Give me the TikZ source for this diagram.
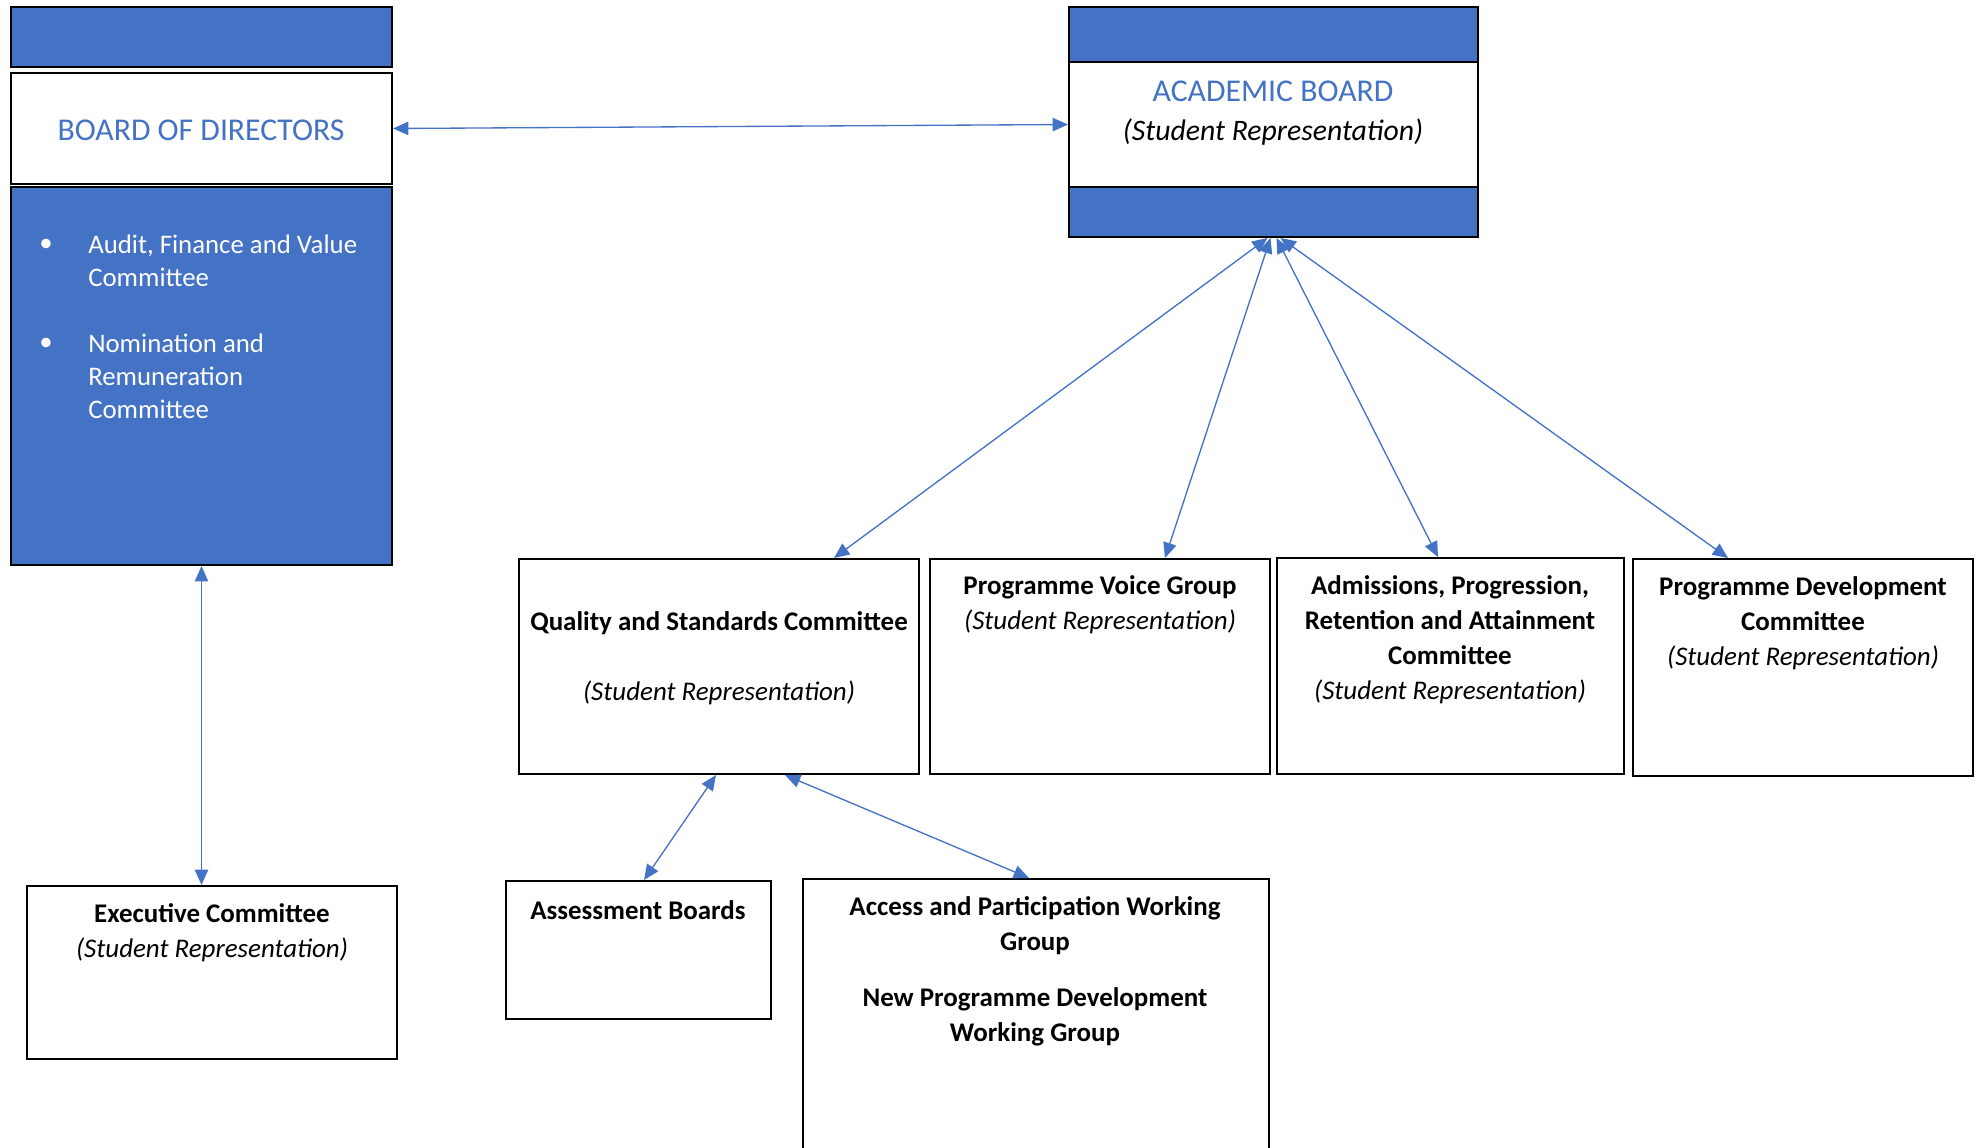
\documentclass[tikz,border=0pt]{standalone}
\usepackage{fontspec}
\setmainfont{Carlito}
\usetikzlibrary{arrows.meta,fit,calc}
\definecolor{accent}{HTML}{4472C4}
\tikzset{
  box/.style={draw=black, line width=1.5pt, fill=white, inner sep=0pt},
  bluebox/.style={box, fill=accent},
  link/.style={draw=accent, line width=1pt,
    {Triangle[length=11.5pt,width=10pt]}-{Triangle[length=11.5pt,width=10pt]}},
  head/.style={font=\fontsize{23.8}{28}\selectfont, text=accent, inner sep=0pt},
  body/.style={font=\fontsize{20.2}{26.25}\selectfont, align=center, inner sep=0pt},
  listtxt/.style={font=\fontsize{20.1}{24.75}\selectfont, text=white, align=left, inner sep=0pt},
}
\begin{document}
\begin{tikzpicture}[x=0.75pt,y=-0.75pt]
\useasboundingbox (0,0) rectangle (1981,1147);
\clip (0,0) rectangle (1981,1147);
% left column
\node[bluebox, fit={(11,7) (392,67)}] (bodtop) {};
\node[box, fit={(11,73) (392,184)}] (bod) {};
\node[bluebox, fit={(11,187) (392,565)}] (bodlist) {};
% academic board
\node[box, fit={(1069,62) (1478,187)}] (ab) {};
\node[bluebox, fit={(1069,7) (1478,62)}] (abtop) {};
\node[bluebox, fit={(1069,187) (1478,237)}] (abbot) {};
% committees
\node[box, fit={(519,559) (919,774)}] (qsc) {};
\node[box, fit={(930,559) (1270,774)}] (pvg) {};
\node[box, fit={(1277,558) (1624,774)}] (apra) {};
\node[box, fit={(1633,559) (1973,776)}] (pdc) {};
\node[box, fit={(27,886) (397,1059)}] (exec) {};
\node[box, fit={(506,881) (771,1019)}] (assess) {};
\node[box, fit={(803,879) (1269,1170)}] (access) {};
% texts
\node[head] (bodt) at (201,130) {BOARD OF DIRECTORS};
\node[head] (abt) at (1273,91) {ACADEMIC BOARD};
\node[font=\fontsize{22.3}{26}\selectfont\itshape, inner sep=0pt] (abs) at (1273,132) {(Student Representation)};
\node[listtxt] (b1) at (46,245) {•};
\node[listtxt] (b2) at (46,344) {•};
\node[listtxt, anchor=west] (l1) at (88,261) {Audit, Finance and Value\\Committee};
\node[listtxt, anchor=west] (l2) at (88,376) {Nomination and\\Remuneration\\Committee};
\node[body] (qsct) at (719,658) {\textbf{Quality and Standards Committee}\\[26.25pt]\textit{(Student Representation)}};
\node[body] (pvgt) at (1100,605) {\textbf{Programme Voice Group}\\\textit{(Student Representation)}};
\node[body] (aprat) at (1450,640) {\textbf{Admissions, Progression,}\\\textbf{Retention and Attainment}\\\textbf{Committee}\\\textit{(Student Representation)}};
\node[body] (pdct) at (1803,623) {\textbf{Programme Development}\\\textbf{Committee}\\\textit{(Student Representation)}};
\node[body] (exect) at (212,933) {\textbf{Executive Committee}\\\textit{(Student Representation)}};
\node[body] (assesst) at (638,910) {\textbf{Assessment Boards}};
\node[body] (accesst) at (1035,971) {\textbf{Access and Participation Working}\\\textbf{Group}\\[16pt]\textbf{New Programme Development}\\\textbf{Working Group}};
% connectors
\draw[link] (bod.east) -- (ab.west);
\draw[link] (bodlist.south) -- (bodlist.south |- exec.north);
\draw[link] ($(abbot.south)+(-6,0)$) -- ($(qsc.north west)+(316,0)$);
\draw[link] ($(abbot.south)+(-3,0)$) -- ($(pvg.north west)+(236,0)$);
\draw[link] ($(abbot.south)+(3,0)$) -- ($(apra.north west)+(162,0)$);
\draw[link] ($(abbot.south)+(7,0)$) -- ($(pdc.north west)+(96,0)$);
\draw[link] ($(qsc.south west)+(198,0)$) -- ($(assess.north west)+(139,0)$);
\draw[link] ($(qsc.south west)+(267,0)$) -- ($(access.north west)+(227,0)$);
\end{tikzpicture}
\end{document}
